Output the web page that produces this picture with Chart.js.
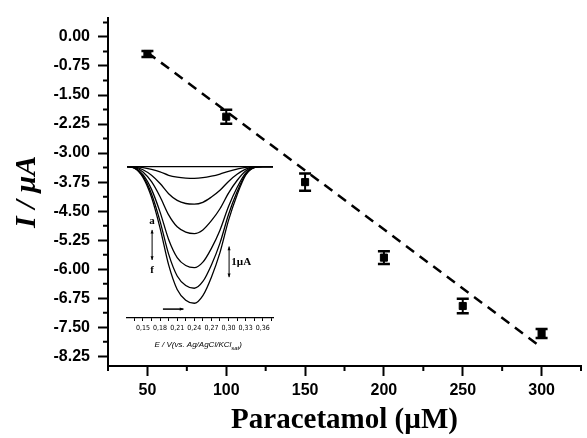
<!DOCTYPE html>
<html>
<head>
<meta charset="utf-8">
<script src="https://cdn.jsdelivr.net/npm/chart.js@4.4.1/dist/chart.umd.min.js"></script>
<style>
  html, body { margin: 0; padding: 0; background: #fff; }
  #wrap { position: relative; width: 587px; height: 438px; }
  #main { position: absolute; left: 0; top: 0; }
  #inset { position: absolute; left: 118px; top: 155px; }
</style>
</head>
<body>
<div id="wrap">
  <canvas id="main" width="587" height="438"></canvas>
  <canvas id="inset" width="170" height="205"></canvas>
</div>
<script>
// ── Calibration data ──
const concentrations = [50, 100, 150, 200, 250, 300];
const currents = [-0.44, -2.06, -3.75, -5.70, -6.95, -7.66];
const currentErr = [0.08, 0.18, 0.22, 0.165, 0.19, 0.115];
const fitX = [50, 300];
const fitY = [-0.40, -8.02];
const xTicks = [50, 100, 150, 200, 250, 300];
const yTicks = [0, -0.75, -1.5, -2.25, -3, -3.75, -4.5, -5.25, -6, -6.75, -7.5, -8.25];
const xMinorTicks = [25, 75, 125, 175, 225, 275, 325];
const yMinorTicks = [0.375, -0.375, -1.125, -1.875, -2.625, -3.375, -4.125, -4.875, -5.625, -6.375, -7.125, -7.875];

// ── Inset voltammograms (E in V, I in µA) ──
const potentials = [0.122, 0.135, 0.15, 0.165, 0.18, 0.195, 0.21, 0.225, 0.24, 0.255, 0.27, 0.285, 0.30, 0.315, 0.33, 0.345, 0.36, 0.378];
const blank  = [0, 0, 0, 0, 0, 0, 0, 0, 0, 0, 0, 0, 0, 0, 0, 0, 0, 0];
const curveA = [0, 0, -0.03, -0.09, -0.17, -0.28, -0.34, -0.37, -0.38, -0.36, -0.31, -0.24, -0.15, -0.08, -0.02, 0, 0, 0];
const curveB = [0, -0.01, -0.10, -0.28, -0.55, -0.88, -1.10, -1.20, -1.22, -1.16, -0.99, -0.77, -0.48, -0.25, -0.08, -0.01, 0, 0];
const curveC = [0, -0.02, -0.17, -0.49, -0.98, -1.57, -1.96, -2.13, -2.18, -2.06, -1.76, -1.37, -0.86, -0.45, -0.14, -0.01, 0, 0];
const curveD = [0, -0.04, -0.26, -0.74, -1.48, -2.37, -2.96, -3.22, -3.29, -3.11, -2.66, -2.07, -1.30, -0.68, -0.21, -0.02, 0, 0];
const curveE = [0, -0.04, -0.31, -0.89, -1.78, -2.85, -3.56, -3.87, -3.96, -3.74, -3.20, -2.49, -1.56, -0.82, -0.25, -0.03, 0, 0];
const curveF = [0, -0.05, -0.35, -1.00, -2.00, -3.20, -4.00, -4.35, -4.45, -4.20, -3.60, -2.80, -1.75, -0.92, -0.28, -0.03, 0, 0];
const insetTicks = [0.135, 0.15, 0.165, 0.18, 0.195, 0.21, 0.225, 0.24, 0.255, 0.27, 0.285, 0.30, 0.315, 0.33, 0.345, 0.36, 0.375];
const insetLabels = [0.15, 0.18, 0.21, 0.24, 0.27, 0.30, 0.33, 0.36];

const SANS = "'Liberation Sans', Arial, sans-serif";
const SERIF = "'Liberation Serif', 'Times New Roman', serif";

// ── Error bars with caps ──
const errorBars = {
  id: 'errorBars',
  afterDatasetsDraw(chart) {
    const { ctx, scales: { x, y } } = chart;
    ctx.save();
    ctx.strokeStyle = '#000';
    concentrations.forEach((c, i) => {
      const px = x.getPixelForValue(c);
      const top = y.getPixelForValue(currents[i] + currentErr[i]);
      const bot = y.getPixelForValue(currents[i] - currentErr[i]);
      ctx.lineWidth = 2;
      ctx.beginPath();
      ctx.moveTo(px, top); ctx.lineTo(px, bot);
      ctx.stroke();
      ctx.lineWidth = 2.5;
      ctx.beginPath();
      ctx.moveTo(px - 6, top); ctx.lineTo(px + 6, top);
      ctx.moveTo(px - 6, bot); ctx.lineTo(px + 6, bot);
      ctx.stroke();
    });
    ctx.restore();
  }
};

// ── Short minor ticks on both axes ──
const minorTicks = {
  id: 'minorTicks',
  afterDraw(chart) {
    const { ctx, scales: { x, y }, chartArea } = chart;
    ctx.save();
    ctx.strokeStyle = '#000';
    ctx.lineWidth = 2;
    ctx.beginPath();
    xMinorTicks.forEach(v => {
      const px = x.getPixelForValue(v);
      ctx.moveTo(px, chartArea.bottom); ctx.lineTo(px, chartArea.bottom + 5);
    });
    yMinorTicks.forEach(v => {
      const py = y.getPixelForValue(v);
      ctx.moveTo(chartArea.left, py); ctx.lineTo(chartArea.left - 5, py);
    });
    ctx.stroke();
    ctx.restore();
  }
};

new Chart(document.getElementById('main'), {
  type: 'scatter',
  data: {
    datasets: [
      {
        label: 'fit',
        data: fitX.map((v, i) => ({ x: v, y: fitY[i] })),
        showLine: true,
        borderColor: '#000',
        borderWidth: 2.5,
        borderDash: [10, 7],
        pointRadius: 0
      },
      {
        label: 'data',
        data: concentrations.map((v, i) => ({ x: v, y: currents[i] })),
        pointStyle: 'rect',
        pointRadius: 5,
        backgroundColor: '#000',
        borderColor: '#000',
        borderWidth: 1
      }
    ]
  },
  options: {
    responsive: false,
    animation: false,
    devicePixelRatio: 1,
    layout: { padding: { top: 12, right: 2, left: 0, bottom: 0 } },
    plugins: { legend: { display: false }, tooltip: { enabled: false } },
    scales: {
      x: {
        type: 'linear',
        min: 25,
        max: 325,
        afterFit(scale) { scale.height = 72; },
        afterBuildTicks(scale) { scale.ticks = xTicks.map(v => ({ value: v })); },
        border: { color: '#000', width: 2 },
        grid: { drawOnChartArea: false, tickLength: 10, tickWidth: 2, tickColor: '#000' },
        ticks: {
          padding: 5,
          color: '#000',
          font: { family: SANS, size: 16, weight: 'bold' },
          callback: v => String(v)
        },
        title: {
          display: true,
          text: 'Paracetamol (µM)',
          color: '#000',
          padding: { top: 0, bottom: 0 },
          font: { family: SERIF, size: 29, weight: 'bold' }
        }
      },
      y: {
        type: 'linear',
        min: -8.5,
        max: 0.5,
        afterFit(scale) { scale.width = 108; },
        afterBuildTicks(scale) { scale.ticks = yTicks.map(v => ({ value: v })); },
        border: { color: '#000', width: 2 },
        grid: { drawOnChartArea: false, tickLength: 10, tickWidth: 2, tickColor: '#000' },
        ticks: {
          padding: 8,
          color: '#000',
          font: { family: SANS, size: 16, weight: 'bold' },
          callback: v => (Math.abs(v) < 1e-9 ? 0 : v).toFixed(2)
        },
        title: {
          display: true,
          text: 'I / µA',
          color: '#000',
          padding: { top: 9, bottom: 0 },
          font: { family: SERIF, size: 30, weight: 'bold', style: 'italic' }
        }
      }
    }
  },
  plugins: [errorBars, minorTicks]
});

// ── Inset: arrows, labels and the subscripted axis title ──
function arrow(ctx, x1, y1, x2, y2, both) {
  const head = (fx, fy, tx, ty) => {
    const a = Math.atan2(ty - fy, tx - fx);
    ctx.beginPath();
    ctx.moveTo(tx, ty);
    ctx.lineTo(tx - 4 * Math.cos(a - 0.4), ty - 4 * Math.sin(a - 0.4));
    ctx.lineTo(tx - 4 * Math.cos(a + 0.4), ty - 4 * Math.sin(a + 0.4));
    ctx.closePath();
    ctx.fill();
  };
  ctx.beginPath();
  ctx.moveTo(x1, y1); ctx.lineTo(x2, y2);
  ctx.stroke();
  head(x1, y1, x2, y2);
  if (both) head(x2, y2, x1, y1);
}

const insetNotes = {
  id: 'insetNotes',
  afterDraw(chart) {
    const { ctx, scales: { x, y }, chartArea } = chart;
    ctx.save();
    ctx.strokeStyle = '#000';
    ctx.fillStyle = '#000';
    ctx.lineWidth = 1;

    // a → f
    ctx.font = `bold 11px ${SERIF}`;
    ctx.textAlign = 'center';
    ctx.textBaseline = 'middle';
    ctx.fillText('a', x.getPixelForValue(0.166), y.getPixelForValue(-1.77));
    ctx.fillText('f', x.getPixelForValue(0.166), y.getPixelForValue(-3.36));
    arrow(ctx, x.getPixelForValue(0.166), y.getPixelForValue(-2.06),
               x.getPixelForValue(0.166), y.getPixelForValue(-3.04), true);

    // 1 µA scale bar
    arrow(ctx, x.getPixelForValue(0.301), y.getPixelForValue(-2.6),
               x.getPixelForValue(0.301), y.getPixelForValue(-3.6), true);
    ctx.textAlign = 'left';
    ctx.fillText('1µA', x.getPixelForValue(0.305), y.getPixelForValue(-3.1));

    // scan direction
    ctx.lineWidth = 1.5;
    arrow(ctx, x.getPixelForValue(0.185), y.getPixelForValue(-4.64),
               x.getPixelForValue(0.221), y.getPixelForValue(-4.64), false);

    // axis title with subscript
    const ty = chartArea.bottom + 27;
    let tx = x.getPixelForValue(0.17);
    ctx.textAlign = 'left';
    ctx.font = `italic 8px ${SANS}`;
    const main = 'E / V(vs. Ag/AgCl/KCl';
    ctx.fillText(main, tx, ty);
    tx += ctx.measureText(main).width;
    ctx.font = `italic 6px ${SANS}`;
    ctx.fillText('sat', tx, ty + 3);
    tx += ctx.measureText('sat').width;
    ctx.font = `italic 8px ${SANS}`;
    ctx.fillText(')', tx, ty);
    ctx.restore();
  }
};

const insetLine = values => ({
  data: potentials.map((v, i) => ({ x: v, y: values[i] })),
  showLine: true,
  borderColor: '#000',
  borderWidth: 1.3,
  pointRadius: 0,
  cubicInterpolationMode: 'monotone'
});

new Chart(document.getElementById('inset'), {
  type: 'scatter',
  data: {
    datasets: [blank, curveA, curveB, curveC, curveD, curveE, curveF].map(insetLine)
  },
  options: {
    responsive: false,
    animation: false,
    devicePixelRatio: 1,
    layout: { padding: { top: 8.6, right: 15, left: 9, bottom: 0 } },
    plugins: { legend: { display: false }, tooltip: { enabled: false } },
    scales: {
      x: {
        type: 'linear',
        min: 0.122,
        max: 0.378,
        afterFit(scale) { scale.height = 42; },
        afterBuildTicks(scale) { scale.ticks = insetTicks.map(v => ({ value: v })); },
        border: { color: '#000', width: 1.2 },
        grid: { drawOnChartArea: false, tickLength: 3, tickWidth: 1, tickColor: '#000' },
        ticks: {
          autoSkip: false,
          maxRotation: 0,
          padding: 3,
          color: '#000',
          font: { family: "'Liberation Sans Narrow', 'DejaVu Sans Condensed', Arial, sans-serif", size: 7 },
          callback: v => insetLabels.some(l => Math.abs(l - v) < 1e-6) ? v.toFixed(2).replace('.', ',') : ''
        }
      },
      y: {
        type: 'linear',
        display: false,
        min: -4.93,
        max: 0.1
      }
    }
  },
  plugins: [insetNotes]
});
</script>
</body>
</html>
